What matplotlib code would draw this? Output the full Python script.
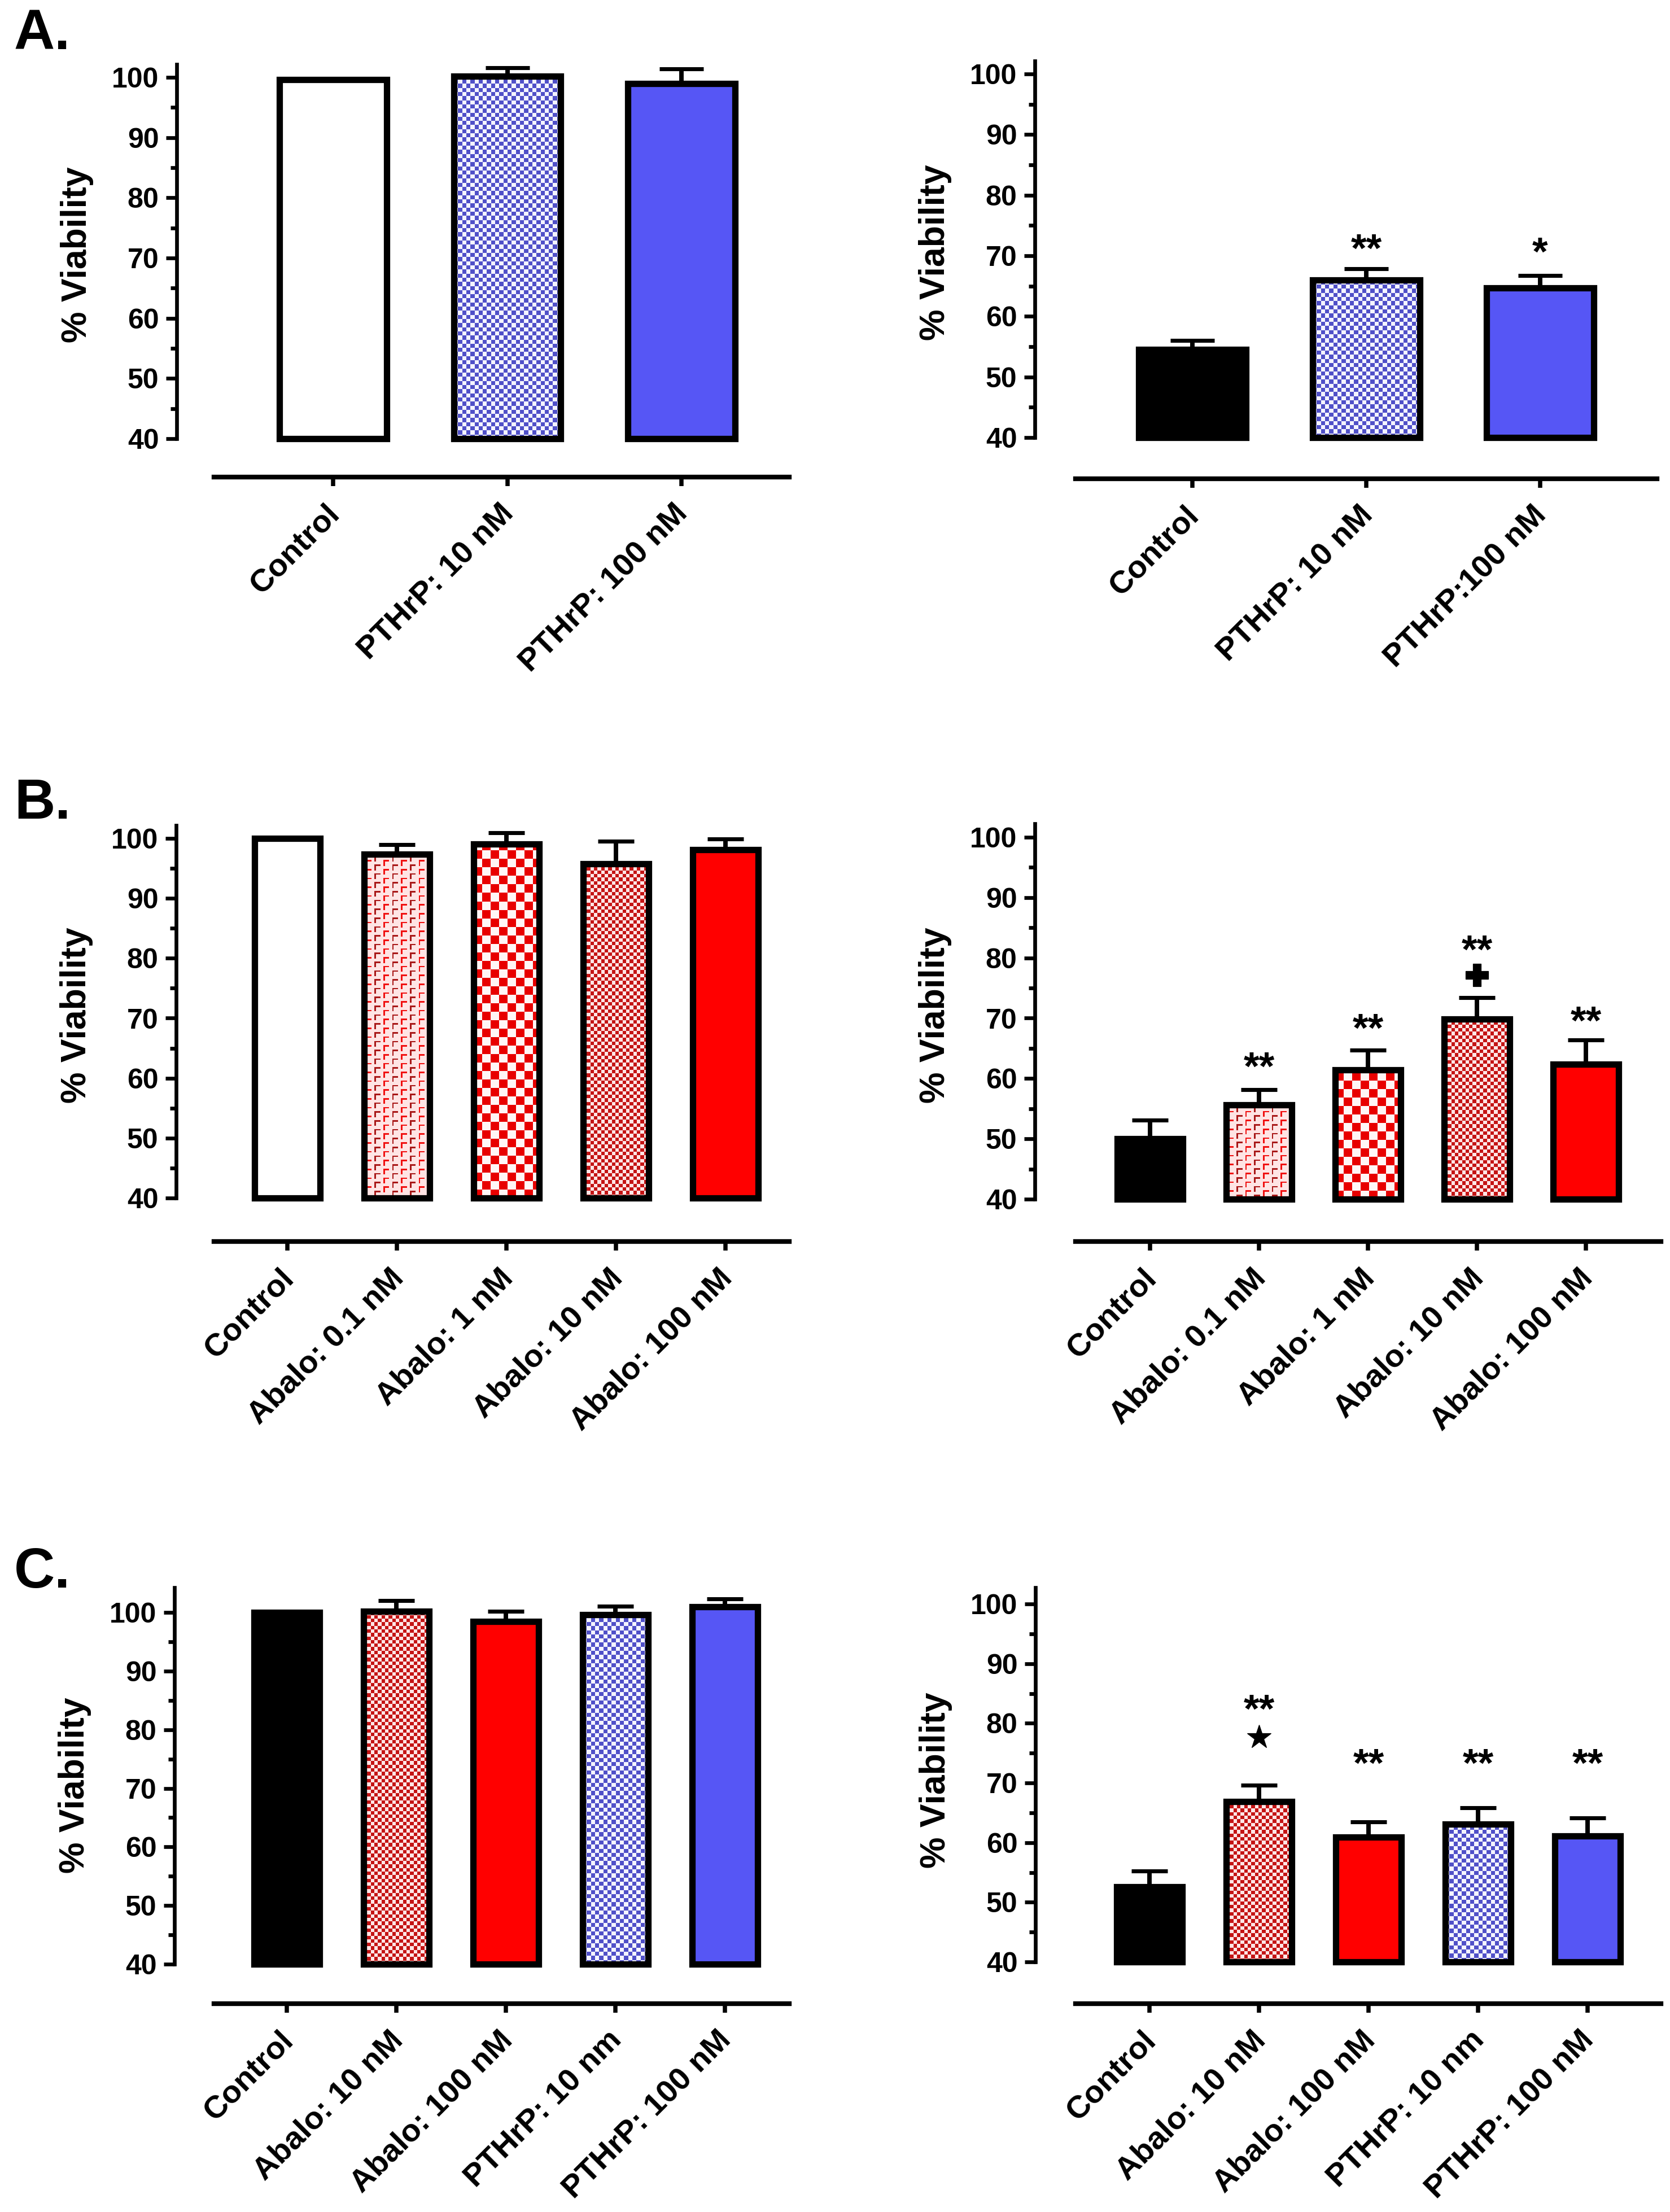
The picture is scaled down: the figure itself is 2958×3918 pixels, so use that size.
import numpy as np
import matplotlib.pyplot as plt
from matplotlib.colors import to_rgb
from matplotlib.transforms import ScaledTranslation

plt.rcParams['font.family'] = ['Liberation Sans', 'DejaVu Sans']
plt.rcParams['font.weight'] = 'bold'

W, H, DPI = 2958, 3918, 300

# ---------------- data ----------------
a_labels_l = ['Control', 'PTHrP: 10 nM', 'PTHrP: 100 nM']
a_labels_r = ['Control', 'PTHrP: 10 nM', 'PTHrP:100 nM']
a_left_mean = [99.6, 100.2, 99.0]
a_left_err = [0, 1.4, 2.4]
a_right_mean = [54.5, 66.0, 64.7]
a_right_err = [1.5, 1.9, 2.0]
a_right_sig = ['', '**', '*']

b_labels = ['Control', 'Abalo: 0.1 nM', 'Abalo: 1 nM', 'Abalo: 10 nM', 'Abalo: 100 nM']
b_left_mean = [100, 97.4, 99.1, 95.8, 98.1]
b_left_err = [0, 1.6, 1.8, 3.7, 1.8]
b_right_mean = [50.0, 55.6, 61.4, 69.9, 62.4]
b_right_err = [3.1, 2.6, 3.3, 3.5, 4.0]
b_right_sig = ['', '**', '**', '**', '**']
b_right_sig2 = ['', '', '', 'plus', '']   # + : vs Abalo 0.1 nM

c_labels = ['Control', 'Abalo: 10 nM', 'Abalo: 100 nM', 'PTHrP: 10 nm', 'PTHrP: 100 nM']
c_left_mean = [100, 100.2, 98.5, 99.6, 101.0]
c_left_err = [0, 1.8, 1.7, 1.5, 1.3]
c_right_mean = [52.6, 66.9, 60.9, 63.1, 61.1]
c_right_err = [2.6, 2.7, 2.6, 2.7, 3.0]
c_right_sig = ['', '**', '**', '**', '**']
c_right_sig2 = ['', 'star', '', '', '']

# fills per bar
a_left_fill = ['white', 'blue_check', 'blue']
a_right_fill = ['black', 'blue_check', 'blue']
b_left_fill = ['white', 'red_brick', 'red_coarse', 'red_fine', 'red']
b_right_fill = ['black', 'red_brick', 'red_coarse', 'red_fine', 'red']
c_fill = ['black', 'red_fine', 'red', 'blue_check', 'blue']

solid = {'white': 'white', 'black': 'black', 'blue': '#5656F5', 'red': '#FF0000'}
symbol_marker = {'plus': ('P', 9.5), 'star': ('*', 10.5)}


def checker(c1, c2):
    a, b = to_rgb(c1), to_rgb(c2)
    return np.array([[a, b], [b, a]])


def brick():
    bg, r1, r2 = to_rgb('#FFE4E4'), to_rgb('#F01010'), to_rgb('#A81818')
    t = np.array([[bg] * 12 for _ in range(6)], dtype=float)
    # two corner marks per tile, the second shifted half a period down
    for r0, c0, col in ((0, 1, r1), (3, 7, r2)):
        for c in range(c0, c0 + 4):
            t[r0 % 6, c] = col
        for r in range(r0 + 1, r0 + 4):
            t[r % 6, c0] = col
    return t


textures = {
    'blue_check': (checker('#5050C8', '#F4F4FF'), 7.3),
    'red_fine': (checker('#C41414', '#FFE6E6'), 6.3),
    'red_coarse': (checker('#E80000', '#FFF6F6'), 15.0),
    'red_brick': (brick(), 2.6),
}

fig = plt.figure(figsize=(W / DPI, H / DPI), dpi=DPI)


def add_texture(ax, bar, tile, unit):
    x0, y0 = bar.get_x(), bar.get_y()
    w, h = bar.get_width(), bar.get_height()
    p0 = ax.transData.transform((x0, y0))
    p1 = ax.transData.transform((x0 + w, y0 + h))
    wpx, hpx = p1 - p0
    nx = int(np.ceil(wpx / unit)) + 1
    ny = int(np.ceil(hpx / unit)) + 1
    img = np.tile(tile, (ny // tile.shape[0] + 1, nx // tile.shape[1] + 1, 1))[:ny, :nx]
    ext = (x0, x0 + nx * unit * w / wpx, y0, y0 + ny * unit * h / hpx)
    im = ax.imshow(img, extent=ext, origin='upper', interpolation='nearest',
                   aspect='auto', zorder=2)
    im.set_clip_path(bar)


def panel(geo, labels, means, errs, fills, capsize=7.6, bw=0.6,
          sig=None, sig_y=None, sig2=None, sig2_y=None):
    xl, xend, ytop, y100, y40, yline, xstart, first, step = geo
    ax = fig.add_axes([xl / W, 1 - yline / H, (xend - xl) / W, (yline - ytop) / H])
    s = (y40 - y100) / 60
    vtop = 100 + (y100 - ytop) / s
    vbot = 40 - (yline - y40) / s
    x_lo = -(first - xl) / step
    x_hi = x_lo + (xend - xl) / step
    ax.set_xlim(x_lo, x_hi)
    ax.set_ylim(vbot, vtop)
    ax.set_autoscale_on(False)

    x = np.arange(len(means))
    means = np.array(means, dtype=float)
    errs = np.array(errs, dtype=float)
    ax.errorbar(x, means, yerr=[np.zeros_like(errs), errs], fmt='none', ecolor='black',
                elinewidth=1.9, capsize=capsize, capthick=1.7, zorder=1)
    fcs = [solid.get(f, 'none') for f in fills]
    bars = ax.bar(x, means - 40, bottom=40, width=bw, color=fcs, edgecolor='black',
                  linewidth=2.7, zorder=3)
    for b, f in zip(bars, fills):
        if f in textures:
            add_texture(ax, b, *textures[f])

    if sig is not None:
        for xi, t, yv in zip(x, sig, sig_y):
            if t:
                ax.annotate(t, (xi, yv), xytext=(0, -0.58 * 17), textcoords='offset points',
                            ha='center', va='baseline', fontsize=17, fontweight='bold')
    if sig2 is not None:
        for xi, t, yv in zip(x, sig2, sig2_y):
            if t:
                m, ms = symbol_marker[t]
                ax.plot(xi, yv, marker=m, ms=ms, color='black', mec='black', mew=0.3,
                        linestyle='none', zorder=4)

    for sp in ('top', 'right'):
        ax.spines[sp].set_visible(False)
    ax.spines['left'].set_bounds(40, vtop)
    ax.spines['left'].set_linewidth(1.6)
    ax.spines['bottom'].set_bounds((xstart - first) / step, x_hi)
    ax.spines['bottom'].set_linewidth(2.0)
    ax.set_yticks(np.arange(40, 101, 10))
    ax.set_yticks(np.arange(45, 100, 10), minor=True)
    ax.tick_params(axis='y', which='major', length=4.6, width=1.6, labelsize=12, pad=3)
    ax.tick_params(axis='y', which='minor', length=2.7, width=1.6)
    ax.tick_params(axis='x', length=3.8, width=1.8, pad=5.5)
    ax.set_xticks(x)
    ax.set_xticklabels(labels, rotation=45, ha='right', va='top', rotation_mode='anchor',
                       fontsize=13.5, fontweight='bold')
    off = ScaledTranslation(-3.5 / 72, 0, fig.dpi_scale_trans)
    for lab in ax.get_xticklabels():
        lab.set_transform(lab.get_transform() + off)
    for lab in ax.get_yticklabels():
        lab.set_fontweight('bold')
    ax.set_ylabel('% Viability', fontsize=15, fontweight='bold')
    ax.yaxis.set_label_coords(-147 / (xend - xl), (70.5 - vbot) / (vtop - vbot))
    return ax


# layout in pixels: xl, xend, ytop, y100, y40, yline, xline start, first bar centre, spacing
geo_a_l = (313, 1398, 114, 137, 777, 845, 379, 590, 308.5)
geo_a_r = (1833, 2935, 108, 131, 775, 848, 1905, 2112, 308.0)
geo_b_l = (312, 1398, 1462, 1485, 2122, 2199, 379, 509, 194.0)
geo_b_r = (1833, 2942, 1459, 1483, 2124, 2199, 1905, 2037, 193.0)
geo_c_l = (309, 1398, 2812, 2856, 3479, 3549, 379, 508, 194.0)
geo_c_r = (1834, 2942, 2812, 2841, 3475, 3549, 1905, 2036, 194.0)

panel(geo_a_l, a_labels_l, a_left_mean, a_left_err, a_left_fill, capsize=9.3, bw=0.615)
panel(geo_a_r, a_labels_r, a_right_mean, a_right_err, a_right_fill, capsize=9.3, bw=0.615,
      sig=a_right_sig, sig_y=[0, 72.8, 72.3])
panel(geo_b_l, b_labels, b_left_mean, b_left_err, b_left_fill)
panel(geo_b_r, b_labels, b_right_mean, b_right_err, b_right_fill,
      sig=b_right_sig, sig_y=[0, 63.6, 70.0, 83.0, 71.2],
      sig2=b_right_sig2, sig2_y=[0, 0, 0, 77.2, 0])
panel(geo_c_l, c_labels, c_left_mean, c_left_err, c_fill)
panel(geo_c_r, c_labels, c_right_mean, c_right_err, c_fill,
      sig=c_right_sig, sig_y=[0, 84.0, 75.0, 75.0, 75.0],
      sig2=c_right_sig2, sig2_y=[0, 77.7, 0, 0, 0])

for letter, base in (('A.', 87), ('B.', 1450), ('C.', 2812)):
    fig.text(25 / W, 1 - base / H, letter, fontsize=24, fontweight='bold',
             ha='left', va='baseline')

fig.savefig('out.png', dpi=DPI)
